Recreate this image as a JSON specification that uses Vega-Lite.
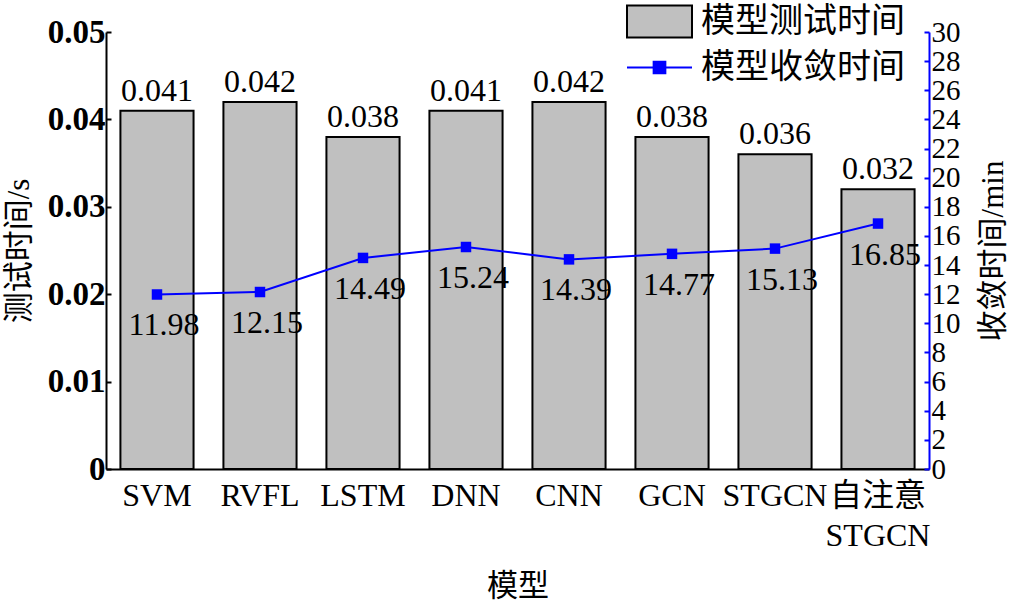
{
  "$schema": "https://vega.github.io/schema/vega-lite/v6.json",
  "width": 823,
  "height": 437,
  "autosize": {"type": "none"},
  "padding": {"left": 106, "top": 32, "right": 86, "bottom": 134},
  "background": "white",
  "config": {
    "font": "Liberation Serif, Noto Sans CJK SC",
    "view": {"stroke": null},
    "axis": {"grid": false, "labelFont": "Liberation Serif, Noto Sans CJK SC", "titleFont": "Liberation Serif, Noto Sans CJK SC", "labelColor": "black", "titleColor": "black", "titleFontWeight": "normal"}
  },
  "data": {
    "values": [
      {"model": "SVM", "test": 0.041, "conv": 11.98},
      {"model": "RVFL", "test": 0.042, "conv": 12.15},
      {"model": "LSTM", "test": 0.038, "conv": 14.49},
      {"model": "DNN", "test": 0.041, "conv": 15.24},
      {"model": "CNN", "test": 0.042, "conv": 14.39},
      {"model": "GCN", "test": 0.038, "conv": 14.77},
      {"model": "STGCN", "test": 0.036, "conv": 15.13},
      {"model": "自注意STGCN", "test": 0.032, "conv": 16.85}
    ]
  },
  "encoding": {
    "x": {
      "field": "model", "type": "nominal", "sort": null,
      "scale": {"paddingInner": 0.29, "paddingOuter": 0.14},
      "axis": {
        "title": "模型", "titleFontSize": 31, "titlePadding": 20,
        "labelAngle": 0, "labelFontSize": 32, "labelPadding": 11, "labelLineHeight": 40,
        "labelExpr": "datum.value == '自注意STGCN' ? ['自注意', 'STGCN'] : datum.label",
        "ticks": false, "domainColor": "black", "domainWidth": 2
      }
    }
  },
  "layer": [
    {
      "encoding": {
        "y": {
          "field": "test", "type": "quantitative",
          "scale": {"domain": [0, 0.05]},
          "axis": {
            "title": "测试时间/s", "titleFontSize": 31, "titlePadding": 12,
            "values": [0, 0.01, 0.02, 0.03, 0.04, 0.05],
            "format": "~g",
            "labelFontSize": 33, "labelFontWeight": "bold", "labelPadding": 6,
            "tickSize": -5, "tickColor": "black", "tickWidth": 2,
            "domainColor": "black", "domainWidth": 2
          }
        }
      },
      "layer": [
        {
          "mark": {"type": "bar", "fill": "#c0c0c0", "stroke": "black", "strokeWidth": 2},
          "encoding": {
            "fill": {
              "datum": "模型测试时间", "type": "nominal",
              "scale": {"range": ["#c0c0c0"]},
              "legend": {
                "title": null, "orient": "none", "legendX": 520, "legendY": -44,
                "symbolType": "M-1,-0.49H1V0.49H-1Z", "symbolSize": 4225,
                "symbolStrokeColor": "black", "symbolStrokeWidth": 2, "symbolFillColor": "#c0c0c0",
                "labelFontSize": 34, "labelFont": "Liberation Serif, Noto Sans CJK SC", "labelColor": "black",
                "labelOffset": 8, "labelLimit": 400
              }
            }
          }
        },
        {
          "mark": {"type": "text", "baseline": "bottom", "dy": -3, "fontSize": 32, "color": "black"},
          "encoding": {"text": {"field": "test", "type": "quantitative", "format": ".3f"}}
        }
      ]
    },
    {
      "encoding": {
        "y": {
          "field": "conv", "type": "quantitative",
          "scale": {"domain": [0, 30]},
          "axis": {
            "orient": "right",
            "title": "收敛时间/min", "titleFontSize": 31, "titleAngle": 270, "titleBaseline": "top", "titlePadding": 18,
            "values": [0, 2, 4, 6, 8, 10, 12, 14, 16, 18, 20, 22, 24, 26, 28, 30],
            "labelFontSize": 29, "labelPadding": 7, "labelOverlap": false,
            "tickSize": -5, "tickColor": "#0000ff", "tickWidth": 2,
            "domainColor": "#0000ff", "domainWidth": 2
          }
        }
      },
      "layer": [
        {
          "mark": {"type": "line", "color": "#0000ff", "strokeWidth": 2},
          "encoding": {
            "stroke": {
              "datum": "模型收敛时间", "type": "nominal",
              "scale": {"range": ["#0000ff"]},
              "legend": {
                "title": null, "orient": "none", "legendX": 520, "legendY": 2,
                "symbolType": "M-1,0H1M-0.18,-0.18H0.18V0.18H-0.18Z", "symbolSize": 4225,
                "symbolStrokeColor": "#0000ff", "symbolStrokeWidth": 2, "symbolFillColor": "#0000ff",
                "labelFontSize": 34, "labelFont": "Liberation Serif, Noto Sans CJK SC", "labelColor": "black",
                "labelOffset": 8, "labelLimit": 400
              }
            }
          }
        },
        {
          "mark": {"type": "point", "shape": "square", "filled": true, "color": "#0000ff", "size": 110, "opacity": 1}
        },
        {
          "mark": {"type": "text", "baseline": "top", "dy": 16, "dx": 7, "fontSize": 32, "color": "black"},
          "encoding": {"text": {"field": "conv", "type": "quantitative", "format": ".2f"}}
        }
      ]
    }
  ],
  "resolve": {"scale": {"y": "independent"}}
}
